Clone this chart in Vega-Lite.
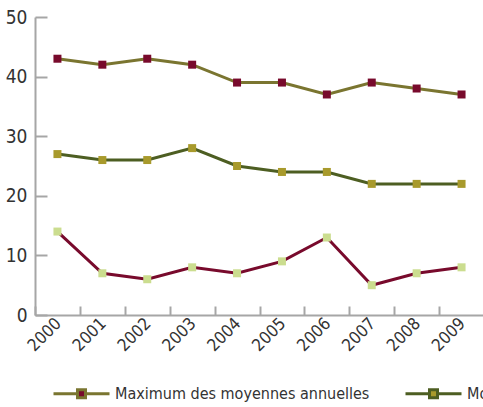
{
  "$schema": "https://vega.github.io/schema/vega-lite/v6.json",
  "width": 449,
  "height": 298,
  "autosize": {"type": "none"},
  "padding": {"left": 35, "top": 17, "right": 0, "bottom": 92},
  "config": {
    "view": {"stroke": null},
    "font": "DejaVu Sans Condensed",
    "axis": {"grid": false, "domainColor": "#a6a6a6", "domainWidth": 2, "tickColor": "#a6a6a6", "tickWidth": 2, "labelColor": "#333333", "labelFont": "DejaVu Sans Condensed", "titleFont": "DejaVu Sans Condensed"}
  },
  "data": {
    "values": [
      {"annee": "2000", "serie": "Maximum des moyennes annuelles", "valeur": 43},
      {"annee": "2001", "serie": "Maximum des moyennes annuelles", "valeur": 42},
      {"annee": "2002", "serie": "Maximum des moyennes annuelles", "valeur": 43},
      {"annee": "2003", "serie": "Maximum des moyennes annuelles", "valeur": 42},
      {"annee": "2004", "serie": "Maximum des moyennes annuelles", "valeur": 39},
      {"annee": "2005", "serie": "Maximum des moyennes annuelles", "valeur": 39},
      {"annee": "2006", "serie": "Maximum des moyennes annuelles", "valeur": 37},
      {"annee": "2007", "serie": "Maximum des moyennes annuelles", "valeur": 39},
      {"annee": "2008", "serie": "Maximum des moyennes annuelles", "valeur": 38},
      {"annee": "2009", "serie": "Maximum des moyennes annuelles", "valeur": 37},
      {"annee": "2000", "serie": "Moyenne des moyennes annuelles", "valeur": 27},
      {"annee": "2001", "serie": "Moyenne des moyennes annuelles", "valeur": 26},
      {"annee": "2002", "serie": "Moyenne des moyennes annuelles", "valeur": 26},
      {"annee": "2003", "serie": "Moyenne des moyennes annuelles", "valeur": 28},
      {"annee": "2004", "serie": "Moyenne des moyennes annuelles", "valeur": 25},
      {"annee": "2005", "serie": "Moyenne des moyennes annuelles", "valeur": 24},
      {"annee": "2006", "serie": "Moyenne des moyennes annuelles", "valeur": 24},
      {"annee": "2007", "serie": "Moyenne des moyennes annuelles", "valeur": 22},
      {"annee": "2008", "serie": "Moyenne des moyennes annuelles", "valeur": 22},
      {"annee": "2009", "serie": "Moyenne des moyennes annuelles", "valeur": 22},
      {"annee": "2000", "serie": "Minimum des moyennes annuelles", "valeur": 14},
      {"annee": "2001", "serie": "Minimum des moyennes annuelles", "valeur": 7},
      {"annee": "2002", "serie": "Minimum des moyennes annuelles", "valeur": 6},
      {"annee": "2003", "serie": "Minimum des moyennes annuelles", "valeur": 8},
      {"annee": "2004", "serie": "Minimum des moyennes annuelles", "valeur": 7},
      {"annee": "2005", "serie": "Minimum des moyennes annuelles", "valeur": 9},
      {"annee": "2006", "serie": "Minimum des moyennes annuelles", "valeur": 13},
      {"annee": "2007", "serie": "Minimum des moyennes annuelles", "valeur": 5},
      {"annee": "2008", "serie": "Minimum des moyennes annuelles", "valeur": 7},
      {"annee": "2009", "serie": "Minimum des moyennes annuelles", "valeur": 8}
    ]
  },
  "encoding": {
    "x": {
      "field": "annee", "type": "ordinal", "bandPosition": 0.5,
      "scale": {"type": "band", "paddingInner": 0, "paddingOuter": 0},
      "axis": {"title": null, "labelAngle": -45, "tickBand": "extent", "tickSize": -9, "labelPadding": 9, "labelOffset": -5, "labelFontSize": 17}
    },
    "y": {
      "field": "valeur", "type": "quantitative",
      "scale": {"domain": [0, 50]},
      "axis": {"title": null, "values": [0, 10, 20, 30, 40, 50], "tickSize": -12, "labelPadding": 20, "labelFontSize": 19}
    }
  },
  "layer": [
    {
      "mark": {"type": "line", "strokeWidth": 3},
      "encoding": {
        "stroke": {
          "field": "serie", "type": "nominal",
          "scale": {"domain": ["Maximum des moyennes annuelles", "Moyenne des moyennes annuelles", "Minimum des moyennes annuelles"], "range": ["#7a7530", "#4d5e22", "#780a2c"]},
          "legend": {"title": null, "orient": "none", "direction": "horizontal", "legendX": 17, "legendY": 347, "symbolType": "M-1,0L-0.143,0M0.143,0L1,0M-0.143,-0.143H0.143V0.143H-0.143Z", "symbolSize": 3136, "symbolStrokeWidth": 3, "labelFontSize": 16, "labelColor": "#333333", "labelFont": "DejaVu Sans Condensed", "labelLimit": 400, "columnPadding": 29}
        }
      }
    },
    {
      "mark": {"type": "point", "shape": "square", "filled": true, "size": 64, "opacity": 1},
      "encoding": {
        "fill": {
          "field": "serie", "type": "nominal",
          "scale": {"domain": ["Maximum des moyennes annuelles", "Moyenne des moyennes annuelles", "Minimum des moyennes annuelles"], "range": ["#780a2c", "#a89a2c", "#cbdd8f"]},
          "legend": {"title": null, "orient": "none", "direction": "horizontal", "legendX": 17, "legendY": 347, "symbolType": "M-1,0L-0.143,0M0.143,0L1,0M-0.143,-0.143H0.143V0.143H-0.143Z", "symbolSize": 3136, "symbolStrokeWidth": 3, "labelFontSize": 16, "labelColor": "#333333", "labelFont": "DejaVu Sans Condensed", "labelLimit": 400, "columnPadding": 29}
        }
      }
    }
  ]
}
